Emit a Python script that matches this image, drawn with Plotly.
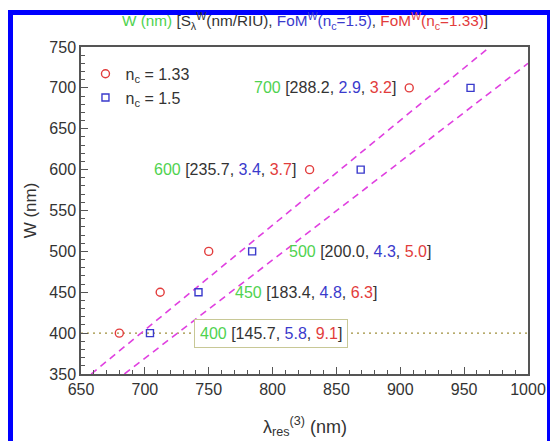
import plotly.graph_objects as go

# Data
W_nm = [400, 450, 500, 600, 700]
lam_n133 = [680, 712, 750, 829, 907]
lam_n15 = [704, 742, 784, 869, 955]
S_lambda = ["145.7", "183.4", "200.0", "235.7", "288.2"]
FoM_n15 = ["5.8", "4.8", "4.3", "3.4", "2.9"]
FoM_n133 = ["9.1", "6.3", "5.0", "3.7", "3.2"]

# Dashed guide lines
guide_red_lam = [658, 970]
guide_red_W = [350, 750]
guide_blue_lam = [684, 1000]
guide_blue_W = [350, 730]

GREEN = "#4fd24f"
BLUE = "#3a3acc"
RED = "#e23c3c"
DARK = "#333333"
FONT = "Liberation Sans, Arial, sans-serif"

fig = go.Figure()

fig.add_trace(go.Scatter(x=[650, 1000], y=[400, 400], mode="lines",
                         line=dict(color="#a0903c", width=1.2, dash="2px,4px"),
                         showlegend=False, hoverinfo="skip"))
fig.add_trace(go.Scatter(x=guide_red_lam, y=guide_red_W, mode="lines",
                         line=dict(color="#e040e0", width=1.6, dash="7px,5px"),
                         showlegend=False, hoverinfo="skip"))
fig.add_trace(go.Scatter(x=guide_blue_lam, y=guide_blue_W, mode="lines",
                         line=dict(color="#e040e0", width=1.6, dash="7px,5px"),
                         showlegend=False, hoverinfo="skip"))

fig.add_trace(go.Scatter(x=lam_n133, y=W_nm, mode="markers", name="n<sub>c</sub> = 1.33",
                         marker=dict(symbol="circle-open", size=8, color=RED,
                                     line=dict(width=1.4, color=RED))))
fig.add_trace(go.Scatter(x=lam_n15, y=W_nm, mode="markers", name="n<sub>c</sub> = 1.5",
                         marker=dict(symbol="square-open", size=7, color=BLUE,
                                     line=dict(width=1.4, color=BLUE))))


def label(i):
    return (f"<span style='color:{GREEN}'>{W_nm[i]}</span> [{S_lambda[i]}, "
            f"<span style='color:{BLUE}'>{FoM_n15[i]}</span>, "
            f"<span style='color:{RED}'>{FoM_n133[i]}</span>]")


ann = []
for i in (4, 3):
    ann.append(dict(x=lam_n133[i] - 9, y=W_nm[i], text=label(i), xanchor="right",
                    yanchor="middle", showarrow=False))
for i in (2, 1):
    ann.append(dict(x=lam_n15[i] + 27, y=W_nm[i], text=label(i), xanchor="left",
                    yanchor="middle", showarrow=False))
ann.append(dict(x=799, y=W_nm[0], text=label(0), xanchor="center", yanchor="middle",
                showarrow=False, bgcolor="white", bordercolor="#c8c896", borderwidth=1,
                borderpad=5))
for a in ann:
    a["font"] = dict(family=FONT, size=16, color=DARK)

px = lambda p: (p - 81) / 447
py = lambda p: (374 - p) / 327

ann.append(dict(xref="paper", yref="paper", x=0.5, y=py(21), showarrow=False,
                xanchor="center", yanchor="middle",
                text=(f"<span style='color:{GREEN}'>W (nm)</span> [S<sub>λ</sub><sup>W</sup>(nm/RIU), "
                      f"<span style='color:{BLUE}'>FoM<sup>W</sup>(n<sub>c</sub>=1.5)</span>, "
                      f"<span style='color:{RED}'>FoM<sup>W</sup>(n<sub>c</sub>=1.33)</span>]"),
                font=dict(family=FONT, size=15.3, color=DARK)))
ann.append(dict(xref="paper", yref="paper", x=0.5, y=py(426), showarrow=False,
                xanchor="center", yanchor="middle",
                text="λ<sub>res</sub><sup>(3)</sup> (nm)",
                font=dict(family=FONT, size=18, color=DARK)))

border = dict(color="#0000ff", width=5)
shapes = [
    dict(type="line", xref="paper", yref="paper", x0=px(10.5), x1=px(10.5),
         y0=py(10), y1=py(441), line=border, layer="above"),
    dict(type="line", xref="paper", yref="paper", x0=px(8), x1=px(550),
         y0=py(12.5), y1=py(12.5), line=border, layer="above"),
    dict(type="line", xref="paper", yref="paper", x0=px(548.5), x1=px(548.5),
         y0=py(10), y1=py(441), line=dict(color="#0000ff", width=3), layer="above"),
    # keep the bottom strip white between the side borders
    dict(type="rect", xref="paper", yref="paper", x0=px(13), x1=px(547),
         y0=py(441), y1=py(434), line=dict(width=0), fillcolor="white", layer="above"),
]

fig.update_layout(
    width=550, height=441,
    margin=dict(l=81, r=22, t=47, b=67),
    paper_bgcolor="white", plot_bgcolor="white",
    font=dict(family=FONT, color=DARK),
    annotations=ann,
    showlegend=True,
    legend=dict(x=0.01, y=0.97, xanchor="left", yanchor="top", bgcolor="rgba(0,0,0,0)",
                font=dict(family=FONT, size=16, color=DARK), tracegroupgap=2),
    shapes=shapes,
)

fig.update_xaxes(range=[650, 1000], tickvals=[650, 700, 750, 800, 850, 900, 950, 1000],
                 ticks="inside", ticklen=7, tickwidth=1, tickcolor="#555",
                 minor=dict(ticks="inside", ticklen=4, dtick=10, tickcolor="#555"),
                 showline=True, linecolor="#555", linewidth=1.5, mirror=True,
                 showgrid=False, zeroline=False, automargin=False,
                 tickfont=dict(size=16, color=DARK, family=FONT))
fig.update_yaxes(range=[350, 750], dtick=50,
                 ticks="inside", ticklen=7, tickwidth=1, tickcolor="#555",
                 minor=dict(ticks="inside", ticklen=4, dtick=10, tickcolor="#555"),
                 showline=True, linecolor="#555", linewidth=1.5, mirror=True,
                 showgrid=False, zeroline=False, automargin=False,
                 tickfont=dict(size=16, color=DARK, family=FONT),
                 title=dict(text="W (nm)", font=dict(size=17, color=DARK, family=FONT), standoff=8))

fig.write_html("out.html")
